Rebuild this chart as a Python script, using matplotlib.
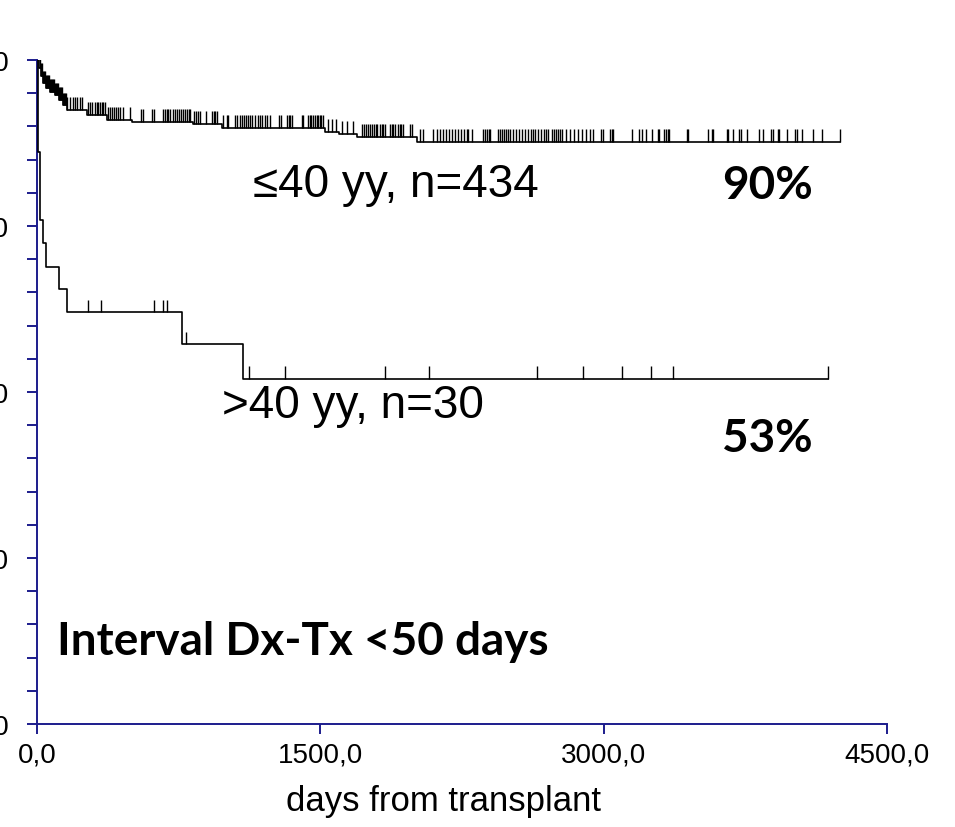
import numpy as np
import matplotlib
matplotlib.use('Agg')
import matplotlib.pyplot as plt
from matplotlib.ticker import FixedLocator, MultipleLocator

# survival steps (days, % surviving) for the two age groups
young_times = [0, 10, 21, 32, 48, 69, 95, 116, 138, 159, 265, 371, 503, 826, 979, 1525, 1599, 1694, 2012]
young_surv = [100, 98.8, 97.6, 96.5, 95.8, 95.2, 94.7, 94.0, 93.2, 92.5, 91.7, 91.0, 90.7, 90.4, 89.8, 89.2, 88.9, 88.4, 87.7]
young_end = 4251
young_censored = [
    16, 21, 26, 32, 37, 42, 48, 53, 58, 64, 69, 74, 79, 85, 90, 95, 101, 106, 111, 116,
    122, 127, 132, 138, 143, 148, 154, 159, 175, 191, 201, 212, 228, 238,
    270, 281, 291, 307, 318, 323, 334, 344, 349, 360, 376, 386, 397, 408, 418, 429, 439, 455,
    492, 551, 561, 609, 619, 667, 678, 688, 693, 704,
    720, 731, 741, 752, 762, 773, 783, 794, 805, 810, 831, 842, 852, 863, 895,
    926, 937, 942, 953, 985, 1006, 1011, 1048, 1059,
    1075, 1085, 1096, 1107, 1117, 1128, 1138, 1154, 1170, 1181, 1191, 1207, 1218, 1234,
    1281, 1292, 1324, 1334, 1339, 1350, 1403, 1408,
    1435, 1445, 1451, 1461, 1472, 1482, 1488, 1498, 1503, 1514, 1541, 1562, 1583, 1615, 1641, 1673,
    1721, 1731, 1742, 1752, 1763, 1774, 1784, 1795, 1800, 1816, 1826, 1832, 1842,
    1869, 1879, 1885, 1895, 1911, 1922, 1927, 1938, 1975, 1985, 2028, 2043, 2096, 2118,
    2133, 2149, 2165, 2181, 2197, 2213, 2229, 2245, 2261, 2276, 2282, 2303,
    2361, 2371, 2382, 2393, 2398, 2441, 2451, 2462, 2472, 2483, 2493,
    2504, 2520, 2536, 2552, 2568, 2584, 2599, 2615, 2626, 2636, 2652, 2668, 2684, 2695, 2705,
    2726, 2737, 2748, 2758, 2769, 2779, 2801, 2822, 2843, 2864, 2885, 2906, 2928, 2943,
    2986, 2996, 3033, 3044, 3049, 3150, 3187, 3203, 3224, 3256, 3288, 3293,
    3319, 3330, 3341, 3346, 3441, 3446, 3552, 3573, 3579, 3653, 3658,
    3685, 3716, 3727, 3759, 3822, 3844, 3886, 3896, 3923, 3928, 3971,
    4013, 4023, 4050, 4108, 4156, 4251,
]

old_times = [0, 5, 16, 32, 48, 116, 159, 768, 1091]
old_surv = [100, 86.1, 75.9, 72.4, 68.8, 65.5, 62.0, 57.2, 52.0]
old_end = 4188
old_censored = [270, 339, 619, 667, 688, 789, 1122, 1313, 1842, 2075, 2647, 2891, 3097, 3251, 3367, 4188]

x_ticks = [0, 1500, 3000, 4500]
y_ticks = [0, 25, 50, 75, 100]

axis_blue = '#1c1c8c'
sans = ['Liberation Sans', 'DejaVu Sans']
bold = ['Lato', 'DejaVu Sans']


def surv_at(times, surv, t):
    i = np.searchsorted(times, t, side='right') - 1
    return np.asarray(surv)[i]


def km_curve(ax, times, surv, end, censored, tick_h=1.9):
    tt = np.r_[times, end]
    ss = np.r_[surv, surv[-1]]
    ax.step(tt, ss, where='post', color='black', lw=1.2, zorder=3)
    c = np.asarray(censored)
    lvl = surv_at(times, surv, c)
    ax.vlines(c, lvl, lvl + tick_h, color='black', lw=1.0, zorder=3)


fig = plt.figure(figsize=(9.55, 8.27), dpi=100)
ax = fig.add_axes([37 / 955, 103 / 827, 850 / 955, 664 / 827])

km_curve(ax, young_times, young_surv, young_end, young_censored)
km_curve(ax, old_times, old_surv, old_end, old_censored)

ax.set_xlim(0, 4500)
ax.set_ylim(0, 100)
ax.spines['top'].set_visible(False)
ax.spines['right'].set_visible(False)
for s in ['left', 'bottom']:
    ax.spines[s].set_color(axis_blue)
    ax.spines[s].set_linewidth(1.4)

ax.xaxis.set_major_locator(FixedLocator(x_ticks))
ax.set_xticklabels([f'{v:.1f}'.replace('.', ',') for v in x_ticks], family=sans, fontsize=20)
ax.yaxis.set_major_locator(FixedLocator(y_ticks))
ax.yaxis.set_minor_locator(MultipleLocator(5))
ax.set_yticklabels([f'{v:.1f}'.replace('.', ',') for v in y_ticks], family=sans, fontsize=20)
ax.tick_params(axis='both', which='both', color=axis_blue, width=1.4, length=7, direction='out')
ax.tick_params(axis='y', which='major', pad=13)
ax.tick_params(axis='x', pad=6)

ax.set_xlabel('days from transplant', family=sans, fontsize=25)
ax.xaxis.set_label_coords(0.478, -0.092)

ax.text(1143, 79.4, '≤40 yy, n=434', family=sans, fontsize=33, va='baseline')
ax.text(3626, 79.1, '90%', family=bold, fontsize=33, fontweight='bold', va='baseline')
ax.text(979, 46.1, '>40 yy, n=30', family=sans, fontsize=33, va='baseline')
ax.text(3626, 41.0, '53%', family=bold, fontsize=33, fontweight='bold', va='baseline')
ax.text(106, 10.4, 'Interval Dx-Tx <50 days', family=bold, fontsize=33, fontweight='bold', va='baseline')

fig.savefig('out.png', dpi=100)
